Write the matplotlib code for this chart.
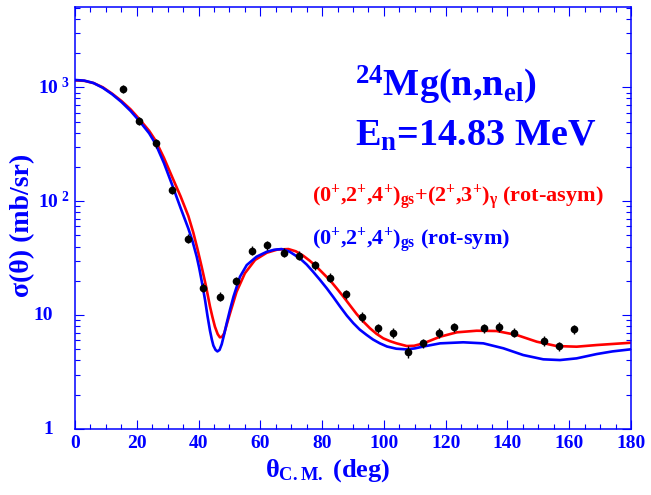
import matplotlib
matplotlib.use("Agg")
import matplotlib.pyplot as plt
import matplotlib.transforms as mtransforms
from matplotlib.ticker import MultipleLocator, LogLocator, NullFormatter

plt.rcParams['font.family'] = ['Liberation Serif', 'DejaVu Serif']
plt.rcParams['font.weight'] = 'bold'
plt.rcParams['mathtext.fontset'] = 'custom'
plt.rcParams['mathtext.rm'] = 'Liberation Serif:bold'
plt.rcParams['mathtext.it'] = 'Liberation Serif:bold'
plt.rcParams['mathtext.bf'] = 'Liberation Serif:bold'

BLUE = '#0000ff'
RED = '#ff0000'

# measured elastic cross sections, 24Mg(n,n) at 14.83 MeV
theta_exp = [15.6, 20.8, 26.1, 31.3, 36.5, 41.5, 46.9, 52.0, 57.2, 62.3,
             67.5, 72.5, 77.7, 82.7, 87.7, 92.8, 98.0, 102.9, 107.9, 112.7,
             117.7, 122.7, 132.4, 137.3, 142.1, 151.8, 156.7, 161.5]
sigma_exp = [972, 506, 322, 126, 46.9, 17.4, 14.5, 20.0, 36.8, 41.2,
             35.3, 33.2, 27.5, 21.3, 15.2, 9.68, 7.66, 7.01, 4.77, 5.65,
             7.01, 7.81, 7.66, 7.91, 7.01, 5.96, 5.35, 7.55]
sigma_err = [85, 42, 27, 11, 4.2, 1.6, 1.3, 1.8, 3.3, 3.7,
             3.2, 3.0, 2.5, 1.9, 1.4, 0.9, 0.75, 0.7, 0.55, 0.55,
             0.7, 0.75, 0.7, 0.75, 0.65, 0.6, 0.5, 0.7]

# coupled-channel calculation, rotational-symmetric model
theta_sym = [0, 3, 6, 9, 12, 15, 18, 21, 24, 26.1, 28.8, 31.5, 34.2, 36.7,
             38.0, 39.4, 40.2, 41.0, 42.1, 42.9, 43.7, 44.3, 44.8, 45.5,
             46.1, 46.8, 47.5, 48.3, 49.1, 50.2, 51.3, 53.4, 55.6, 58.8,
             62.1, 64.5, 66.9, 69.5, 72.8, 75.0, 77.1, 79.3, 81.5, 83.7,
             85.8, 88.0, 90.1, 92.2, 94.4, 96.5, 98.7, 101.0, 104.0, 107.4,
             110.0, 112.8, 118.2, 125.7, 132.2, 138.7, 145.1, 151.6, 157.0,
             162.4, 168.9, 174.0, 180]
sigma_sym = [1160, 1145, 1090, 990, 870, 745, 620, 500, 395, 318, 216, 138,
             87, 57.5, 45.0, 32.6, 26.0, 20.0, 13.6, 9.8, 7.3, 6.1, 5.4,
             4.95, 4.8, 4.95, 5.55, 6.8, 8.47, 11.2, 14.5, 21.7, 27.5, 32.6,
             36.0, 37.5, 38.0, 36.0, 31.5, 27.8, 24.0, 20.4, 17.2, 14.3,
             11.9, 9.9, 8.5, 7.45, 6.7, 6.1, 5.65, 5.3, 5.07, 5.0,
             5.1, 5.3, 5.65, 5.77, 5.65, 5.11, 4.46, 4.09, 4.03,
             4.17, 4.55, 4.80, 5.01]

# rotational-asymmetric model with gamma-band coupling
theta_asym = [0, 3, 6, 9, 12, 15, 18, 21, 24, 26.1, 28.8, 31.5, 34.2, 36.7,
              38.3, 39.6, 41.0, 42.4, 43.7, 44.5, 45.3, 46.2, 46.9, 47.6,
              48.3, 49.2, 50.2, 52.3, 55.0, 58.3, 62.1, 65.5, 69.1, 71.5,
              73.9, 76.0, 78.2, 80.3, 82.5, 84.7, 86.9, 89.0, 91.2, 93.3,
              95.5, 97.6, 99.8, 102.0, 104.1, 107.4, 109.8, 112.8, 118.2,
              123.6, 130.0, 136.5, 143.0, 149.5, 155.9, 162.4, 168.9, 180]
sigma_asym = [1150, 1140, 1090, 1000, 880, 760, 640, 520, 415, 340, 240, 162,
              110, 74, 53.0, 38.5, 26.6, 18.0, 11.9, 9.6, 7.91, 6.8, 6.38,
              6.45, 6.92, 8.4, 10.4, 16.0, 23.3, 30.5, 35.3, 37.6, 38.0,
              36.3, 33.2, 30.0, 26.6, 23.3, 20.3, 17.2, 14.5, 12.2, 10.2,
              8.8, 7.66, 6.85, 6.25, 5.9, 5.65, 5.35, 5.38, 5.65, 6.46,
              7.06, 7.29, 7.25, 6.69, 5.84, 5.35, 5.28, 5.46, 5.72]

ytick_vals = [1, 10, 100, 1000]
ytick_labels = ['1', '10', r'$10^{\ 2}$', r'$10^{\ 3}$']

fig = plt.figure(figsize=(6.51, 4.95), dpi=100)
ax = fig.add_axes([75/651, 66/495, 556/651, 422/495])

ax.plot(theta_asym, sigma_asym, color=RED, lw=1.9, zorder=2)
ax.plot(theta_sym, sigma_sym, color=BLUE, lw=1.9, zorder=3)
ax.errorbar(theta_exp, sigma_exp, yerr=sigma_err, fmt='o', color='black',
            ms=4.5, elinewidth=1.0, capsize=0, zorder=4)

ax.set_yscale('log')
ax.set_xlim(0, 180)
ax.set_ylim(1, 5070)

ax.xaxis.set_major_locator(MultipleLocator(20))
ax.xaxis.set_minor_locator(MultipleLocator(5))
ax.yaxis.set_major_locator(LogLocator(base=10, numticks=10))
ax.yaxis.set_minor_locator(LogLocator(base=10, subs=range(2, 10), numticks=20))
ax.yaxis.set_major_formatter(NullFormatter())
ax.yaxis.set_minor_formatter(NullFormatter())

for sp in ax.spines.values():
    sp.set_color(BLUE)
    sp.set_linewidth(1.1)
ax.tick_params(which='both', direction='in', top=True, right=True,
               color=BLUE, width=0.8)
ax.tick_params(which='major', length=6.5)
ax.tick_params(which='minor', length=3.3)
ax.tick_params(axis='x', labelcolor=BLUE, labelsize=14, pad=4)

# ROOT-style y labels, written by hand so the exponents sit right
trans = mtransforms.blended_transform_factory(ax.transAxes, ax.transData)
for val, lab in zip(ytick_vals, ytick_labels):
    xpos = -0.040 if val < 100 else -0.009
    ax.text(xpos, val, lab, transform=trans, ha='right', va='center',
            color=BLUE, fontsize=14, fontweight='bold')

fig.text(328/651, 1 - 477/495, r'θ$_{C.M.}$ (deg)', color=BLUE, fontsize=19,
         fontweight='bold', ha='center', va='baseline')
fig.text(23/651, 1 - 225/495, 'σ(θ) (mb/sr)', color=BLUE, fontsize=20,
         fontweight='bold', rotation=90, ha='center', va='center')

fig.text(355/651, 1 - 95/495, r'$^{24}$Mg(n,n$_{el}$)', color=BLUE,
         fontsize=27.5, ha='left', va='baseline')
fig.text(355/651, 1 - 146/495, r'E$_{n}$=14.83 MeV', color=BLUE,
         fontsize=27.5, ha='left', va='baseline')
fig.text(312/651, 1 - 202/495,
         r'(0$^{+}$,2$^{+}$,4$^{+}$)$_{gs}$+(2$^{+}$,3$^{+}$)$_{γ}$ (rot-asym)',
         color=RED, fontsize=16, ha='left', va='baseline')
fig.text(312/651, 1 - 245/495, r'(0$^{+}$,2$^{+}$,4$^{+}$)$_{gs}$ (rot-sym)',
         color=BLUE, fontsize=16, ha='left', va='baseline')

fig.savefig('out.png', dpi=100)
